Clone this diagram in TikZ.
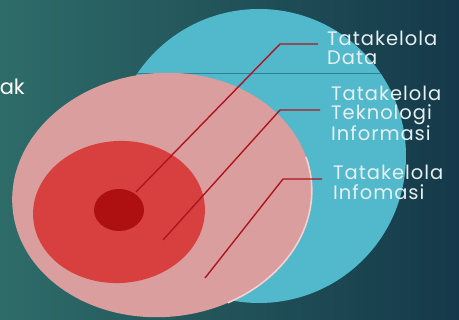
\documentclass[tikz,border=0pt]{standalone}
\usepackage{fontspec}
\setmainfont{Poppins}
\definecolor{bgL}{HTML}{2E6C69}
\definecolor{bgR}{HTML}{15394A}
\definecolor{cyanC}{HTML}{52B8CC}
\definecolor{pinkC}{HTML}{DA9E9F}
\definecolor{rimC}{HTML}{F4D2D2}
\definecolor{redC}{HTML}{D8403F}
\definecolor{darkC}{HTML}{AE1012}
\definecolor{leadC}{HTML}{B0141E}
\definecolor{txtC}{HTML}{E6F0F0}
\definecolor{lineC}{HTML}{2F8090}
\tikzset{
  lead/.style={draw=leadC, line width=1.4pt},
  lbl/.style={anchor=north west, inner sep=0pt, align=left, text=txtC},
}
\newfontfamily\lblfont[LetterSpace=5]{Poppins}
\begin{document}
\begin{tikzpicture}[x=1pt,y=-1pt]
\useasboundingbox (0,0) rectangle (459,320);
\shade[left color=bgL, right color=bgR] (0,0) rectangle (459,320);
\node[anchor=base east, inner sep=0pt, text=white, font=\fontsize{21}{21}\selectfont] (ak) at (25,95) {ak};
% cyan circle
\fill[cyanC] (259,156) circle[radius=147];
\begin{scope}
  \clip (259,156) circle[radius=147];
  \draw[lineC, line width=0.8pt] (100,73) -- (420,73);
\end{scope}
% pink disc
\fill[pinkC, shift={(162,195)}, rotate=5] (0,0) ellipse[x radius=150, y radius=122];
\draw[rimC, line width=1.6pt, shift={(162,195)}, rotate=5] (-12:150 and 122) arc[start angle=-12, end angle=68, x radius=150, y radius=122];
% red ellipse
\fill[redC, shift={(119,212)}, rotate=4] (0,0) ellipse[x radius=86, y radius=71];
% dark dot
\fill[darkC] (119,210) ellipse[x radius=25, y radius=21];
% coordinates
\coordinate (s1) at (136,192);
\coordinate (b1) at (280,44);
\coordinate (e1) at (318,44);
\coordinate (s2) at (163,240);
\coordinate (b2) at (280,110);
\coordinate (e2) at (320,110);
\coordinate (s3) at (205,278);
\coordinate (b3) at (283,179);
\coordinate (e3) at (322,179);
\draw[lead] (s1) -- (b1) -- (e1);
\draw[lead] (s2) -- (b2) -- (e2);
\draw[lead] (s3) -- (b3) -- (e3);
% labels
\node[lbl, font=\lblfont\fontsize{19.5}{19}\selectfont] (t1) at (327,31) {Tatakelola\\Data};
\node[lbl, font=\lblfont\fontsize{19.5}{19}\selectfont] (t2) at (331,86) {Tatakelola\\Teknologi\\Informasi};
\node[lbl, font=\lblfont\fontsize{19.5}{19.5}\selectfont] (t3) at (333,165) {Tatakelola\\Infomasi};
\end{tikzpicture}
\end{document}
